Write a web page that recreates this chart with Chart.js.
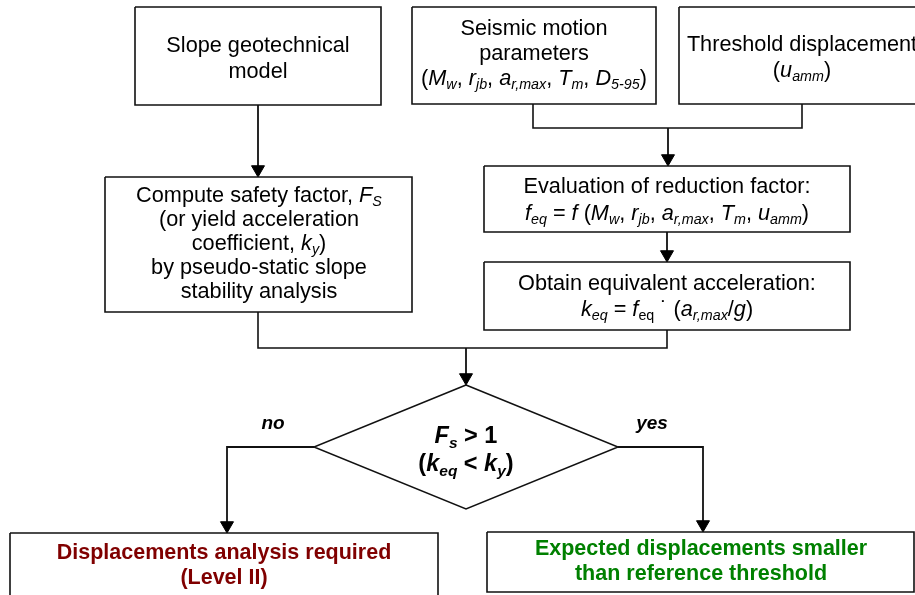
<!DOCTYPE html>
<html lang="en">
<head>
  <meta charset="UTF-8">
  <title>Slope screening flowchart</title>
  <script src="https://cdn.jsdelivr.net/npm/chart.js"></script>
  <style>
    html, body { margin: 0; padding: 0; background: #fff; }
    #flow { display: block; }
  </style>
</head>
<body>
<canvas id="flow" width="915" height="595"></canvas>
<script>
  // Texts of the nodes (*x* = italic, _{x} = italic subscript, ~{x} = upright subscript)
  const slopeText = ['Slope geotechnical', 'model'];
  const seismicText = ['Seismic motion', 'parameters', '(*M*_{w}, *r*_{jb}, *a*_{r,max}, *T*_{m}, *D*_{5-95})'];
  const thresholdText = ['Threshold displacement', '(*u*_{amm})'];
  const safetyText = ['Compute safety factor, *F*_{S}', '(or yield acceleration', 'coefficient, *k*_{y})', 'by pseudo-static slope', 'stability analysis'];
  const reductionText = ['Evaluation of reduction factor:', '*f*_{eq} = *f* (*M*_{w}, *r*_{jb}, *a*_{r,max}, *T*_{m}, *u*_{amm})'];
  const equivText = ['Obtain equivalent acceleration:', '*k*_{eq} = *f*~{eq} \u02d9 (*a*_{r,max}/*g*)'];
  const decisionText = ['*F*_{s} > 1', '(*k*_{eq} < *k*_{y})'];
  const branchText = ['*no*', '*yes*'];
  const levelTwoText = ['Displacements analysis required', '(Level II)'];
  const safeText = ['Expected displacements smaller', 'than reference threshold'];

  // Layout of the drawing, in picture units (0..915 x 0..595)
  const boxes = [
    [135, 7, 381, 105],
    [412, 7, 656, 104],
    [679, 7, 930, 104],
    [105, 177, 412, 312],
    [484, 166, 850, 232],
    [484, 262, 850, 330],
    [10, 533, 438, 620],
    [487, 532, 914, 592]
  ];
  const diamond = [[466, 385], [618, 447], [466, 509], [314, 447], [466, 385]];
  const wires = [
    [[533, 104], [533, 128], [802, 128], [802, 104]],
    [[258, 312], [258, 348], [667, 348], [667, 330]]
  ];
  // arrows: last point is where the head points to
  const arrows = [
    [[258, 105], [258, 177]],
    [[668, 128], [668, 166]],
    [[667, 232], [667, 262]],
    [[466, 348], [466, 385]],
    [[314, 447], [227, 447], [227, 533]],
    [[618, 447], [703, 447], [703, 532]]
  ];
  const HEAD = 7.5;

  const FONT = '"Liberation Sans", Arial, sans-serif';
  const textBlocks = [
    { lines: slopeText, x: 258, base: [52, 78], size: 21.7 },
    { lines: seismicText, x: 534, base: [35, 60, 85], size: 21.7 },
    { lines: thresholdText, x: 802, base: [51, 77], size: 21.7 },
    { lines: safetyText, x: 259, base: [202, 226, 250, 274, 298], size: 21.7 },
    { lines: reductionText, x: 667, base: [193, 220], size: 21.7 },
    { lines: equivText, x: 667, base: [290, 316], size: 21.7 },
    { lines: decisionText, x: 466, base: [443, 471], size: 23.5, bold: true },
    { lines: [branchText[0]], x: 273, base: [429], size: 19, bold: true },
    { lines: [branchText[1]], x: 652, base: [429], size: 19, bold: true },
    { lines: levelTwoText, x: 224, base: [559, 584], size: 21.5, bold: true, color: '#800000' },
    { lines: safeText, x: 701, base: [555, 580], size: 21.5, bold: true, color: '#008000' }
  ];

  const toPts = arr => arr.map(([x, y]) => ({ x, y }));
  const datasets = [];

  boxes.forEach(([x1, y1, x2, y2]) => {
    datasets.push({
      data: toPts([[x1, y1], [x2, y1], [x2, y2], [x1, y2], [x1, y1]]),
      showLine: true, borderColor: '#111', borderWidth: 1.6, pointRadius: 0, tension: 0
    });
  });
  datasets.push({
    data: toPts(diamond), showLine: true, borderColor: '#111', borderWidth: 1.5, pointRadius: 0, tension: 0
  });
  wires.forEach(w => {
    datasets.push({ data: toPts(w), showLine: true, borderColor: '#111', borderWidth: 1.6, pointRadius: 0, tension: 0 });
  });
  arrows.forEach(a => {
    // head is drawn as a rotated triangle point; move its centre back from the tip
    const pts = a.map(p => p.slice());
    const last = pts[pts.length - 1];
    last[1] -= HEAD;
    datasets.push({
      data: toPts(pts),
      showLine: true,
      borderColor: '#111',
      borderWidth: 1.8,
      tension: 0,
      pointStyle: 'triangle',
      rotation: 180,
      pointRadius: ctx => (ctx.dataIndex === pts.length - 1 ? HEAD : 0),
      pointBackgroundColor: '#000',
      pointBorderColor: '#000',
      pointBorderWidth: 1
    });
  });

  // parse the tiny markup into runs
  function parseRich(str) {
    const segs = [];
    let italic = false, buf = '', i = 0;
    const flush = () => { if (buf) { segs.push({ t: buf, italic, sub: false }); buf = ''; } };
    while (i < str.length) {
      const c = str[i];
      if ((c === '_' || c === '~') && str[i + 1] === '{') {
        flush();
        const end = str.indexOf('}', i);
        segs.push({ t: str.slice(i + 2, end), italic: c === '_', sub: true });
        i = end + 1;
      } else if (c === '*') {
        flush();
        italic = !italic;
        i++;
      } else {
        buf += c;
        i++;
      }
    }
    flush();
    return segs;
  }

  function fontFor(seg, size, bold) {
    const s = seg.sub ? size * 0.66 : size;
    return (seg.italic ? 'italic ' : '') + (bold ? 'bold ' : '') + s.toFixed(1) + 'px ' + FONT;
  }

  const textPlugin = {
    id: 'nodeText',
    afterDatasetsDraw(chart) {
      const { ctx, scales: { x, y } } = chart;
      ctx.save();
      ctx.textBaseline = 'alphabetic';
      ctx.textAlign = 'left';
      textBlocks.forEach(b => {
        b.lines.forEach((line, i) => {
          const segs = parseRich(line);
          let total = 0;
          segs.forEach(s => {
            ctx.font = fontFor(s, b.size, b.bold);
            s.w = ctx.measureText(s.t).width;
            total += s.w;
          });
          let px = x.getPixelForValue(b.x) - total / 2;
          const py = y.getPixelForValue(b.base[i]);
          ctx.fillStyle = b.color || '#000';
          segs.forEach(s => {
            ctx.font = fontFor(s, b.size, b.bold);
            ctx.fillText(s.t, px, s.sub ? py + b.size * 0.2 : py);
            px += s.w;
          });
        });
      });
      ctx.restore();
    }
  };

  new Chart(document.getElementById('flow'), {
    type: 'scatter',
    data: { datasets },
    options: {
      responsive: false,
      animation: false,
      events: [],
      layout: { padding: 0, autoPadding: false },
      scales: {
        x: { type: 'linear', min: 0, max: 915, display: false },
        y: { type: 'linear', min: 0, max: 595, reverse: true, display: false }
      },
      plugins: { legend: { display: false }, tooltip: { enabled: false } }
    },
    plugins: [textPlugin]
  });
</script>
</body>
</html>
